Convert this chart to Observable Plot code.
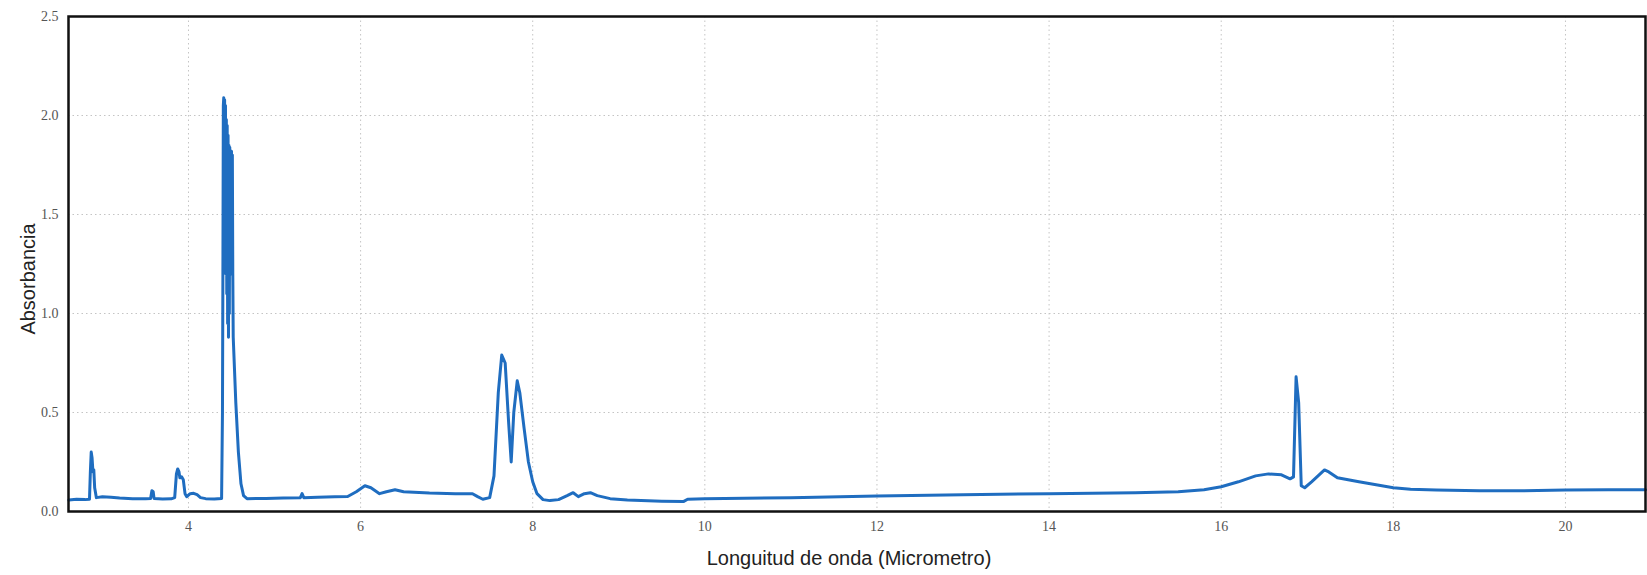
<!DOCTYPE html>
<html>
<head>
<meta charset="utf-8">
<script src="https://cdn.jsdelivr.net/npm/d3@7"></script>
<script src="https://cdn.jsdelivr.net/npm/@observablehq/plot@0.6"></script>
<style>
  html, body { margin: 0; padding: 0; background: #fff; }
  #chart { width: 1647px; height: 575px; }
</style>
</head>
<body>
<div id="chart"></div>
<script>
// Wavelength (micrometres) and absorbance
const wavelength = [
  2.61, 2.70, 2.80, 2.85, 2.86, 2.87, 2.88, 2.89, 2.90, 2.91, 2.93, 3.00, 3.10, 3.20, 3.35, 3.50,
  3.56, 3.575, 3.59, 3.60, 3.70, 3.80, 3.84, 3.86, 3.875, 3.89, 3.90, 3.92, 3.94, 3.96, 3.98,
  4.02, 4.06, 4.10, 4.14, 4.20, 4.30, 4.385,
  4.395, 4.40, 4.405, 4.41, 4.415, 4.42, 4.425, 4.43, 4.435, 4.44, 4.445, 4.45, 4.455, 4.46,
  4.465, 4.47, 4.475, 4.48, 4.485, 4.49, 4.495, 4.50, 4.505, 4.51, 4.515, 4.52,
  4.55, 4.58, 4.61, 4.64, 4.68,
  4.90, 5.10, 5.30, 5.32, 5.34, 5.50, 5.70, 5.85, 5.95, 6.05, 6.12, 6.22, 6.30, 6.40, 6.50,
  6.80, 7.10, 7.30, 7.36, 7.42, 7.50, 7.55, 7.60, 7.64, 7.68, 7.72, 7.75, 7.78, 7.82, 7.85,
  7.90, 7.95, 8.00, 8.05, 8.12, 8.20, 8.30, 8.40, 8.47, 8.53, 8.60, 8.67, 8.75, 8.90, 9.10,
  9.50, 9.75, 9.80, 10.0, 11.0, 12.0, 13.0, 14.0, 15.0, 15.5, 15.8, 16.0, 16.2, 16.4, 16.55,
  16.7, 16.8, 16.84, 16.87, 16.90, 16.93, 16.97, 17.05, 17.2, 17.25, 17.35, 17.6, 17.8, 18.0,
  18.2, 18.5, 19.0, 19.5, 20.0, 20.5, 20.93
];
const absorbance = [
  0.058, 0.062, 0.060, 0.062, 0.20, 0.30, 0.27, 0.20, 0.21, 0.12, 0.070, 0.075, 0.072, 0.068, 0.065, 0.064,
  0.066, 0.105, 0.100, 0.066, 0.063, 0.064, 0.070, 0.19, 0.215, 0.20, 0.17, 0.175, 0.16, 0.09, 0.075,
  0.090, 0.092, 0.085, 0.070, 0.065, 0.063, 0.066,
  0.50, 1.20, 2.05, 2.09, 1.60, 2.08, 1.30, 2.05, 1.20, 1.98, 1.10, 1.95, 0.95, 1.90,
  0.88, 1.85, 1.00, 1.84, 1.20, 1.82, 1.30, 1.82, 1.35, 1.80, 1.20, 0.88,
  0.55, 0.30, 0.14, 0.08, 0.065,
  0.066, 0.068, 0.070, 0.090, 0.070, 0.072, 0.074, 0.076, 0.10, 0.13, 0.12, 0.09, 0.10, 0.11, 0.10,
  0.093, 0.090, 0.090, 0.075, 0.062, 0.070, 0.18, 0.60, 0.79, 0.75, 0.45, 0.25, 0.50, 0.66, 0.60,
  0.42, 0.25, 0.15, 0.09, 0.060, 0.055, 0.060, 0.080, 0.095, 0.075, 0.090, 0.095, 0.080, 0.065, 0.058,
  0.052, 0.050, 0.062, 0.065, 0.070, 0.078, 0.085, 0.090, 0.095, 0.100, 0.110, 0.125, 0.150, 0.180, 0.190,
  0.185, 0.165, 0.175, 0.68, 0.55, 0.13, 0.12, 0.15, 0.21, 0.20, 0.17, 0.150, 0.135, 0.120,
  0.112, 0.108, 0.105, 0.105, 0.108, 0.110, 0.110
];
const xTicks = [4, 6, 8, 10, 12, 14, 16, 18, 20];
const yTicks = [0, 0.5, 1.0, 1.5, 2.0, 2.5];
const xLabel = "Longuitud de onda (Micrometro)";
const yLabel = "Absorbancia";

const data = wavelength.map((w, i) => ({w, a: absorbance[i]}));

const chart = Plot.plot({
  width: 1647,
  height: 575,
  marginLeft: 68,
  marginRight: 2,
  marginTop: 16,
  marginBottom: 64,
  style: {background: "#fff"},
  x: {domain: [2.606, 20.93]},
  y: {domain: [0, 2.5]},
  marks: [
    Plot.gridX(xTicks, {stroke: "#c4c4c4", strokeOpacity: 1, strokeDasharray: "1.5,3"}),
    Plot.gridY(yTicks.filter(d => d > 0 && d < 2.5), {stroke: "#c4c4c4", strokeOpacity: 1, strokeDasharray: "1.5,3"}),
    Plot.axisX(xTicks, {tickSize: 0, tickPadding: 10, label: null, fontFamily: "Liberation Serif", fontSize: 14, fill: "#555"}),
    Plot.axisY(yTicks, {tickSize: 0, tickPadding: 10, label: null, tickFormat: d3.format(".1f"), fontFamily: "Liberation Serif", fontSize: 14, fill: "#555"}),
    Plot.line(data, {x: "w", y: "a", stroke: "#1f6dc0", strokeWidth: 3, strokeLinejoin: "round", curve: "linear"}),
    Plot.frame({stroke: "#111", strokeWidth: 2.5}),
    Plot.text([xLabel], {frameAnchor: "bottom", dy: 47, dx: -8, fontFamily: "Liberation Sans", fontSize: 20, fill: "#222", lineAnchor: "middle", textAnchor: "middle"}),
    Plot.text([yLabel], {frameAnchor: "left", dx: -40, dy: 15, rotate: -90, fontFamily: "Liberation Sans", fontSize: 20, fill: "#222", lineAnchor: "middle", textAnchor: "middle"})
  ]
});
document.getElementById("chart").appendChild(chart);
</script>
</body>
</html>
